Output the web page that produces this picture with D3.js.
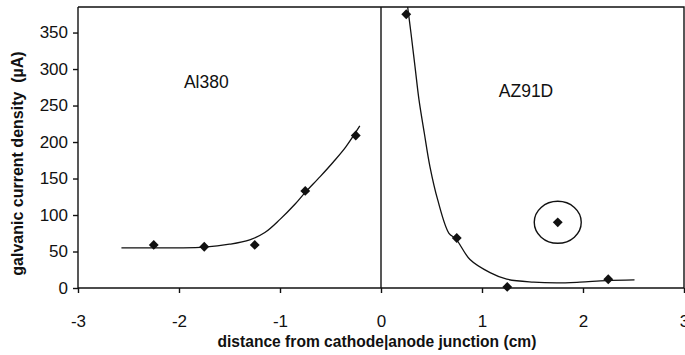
<!DOCTYPE html>
<html>
<head>
<meta charset="utf-8">
<script src="https://cdn.jsdelivr.net/npm/d3@7/dist/d3.min.js"></script>
<style>
  html, body { margin: 0; padding: 0; background: #fff; }
  svg { display: block; font-family: "Liberation Sans", Arial, sans-serif; }
</style>
</head>
<body>
<svg id="chart" width="685" height="355"></svg>
<script>
// Measured galvanic current density along the couple
const al380X = [-2.25, -1.75, -1.25, -0.75, -0.25];
const al380Y = [59, 56.5, 59, 133, 209];
const az91dX = [0.25, 0.75, 1.25, 1.75, 2.25];
const az91dY = [375, 68.5, 1.5, 90, 12];
// Index of the outlier marked with a ring
const outlierIndex = 3;

// Fitted trend lines
const al380FitX = [-2.57, -2.25, -2.0, -1.75, -1.5, -1.3, -1.15, -1.0, -0.85, -0.75, -0.6, -0.47, -0.35, -0.21];
const al380FitY = [55, 55, 55, 56, 60, 66, 76, 94, 115, 131, 153, 173, 193, 222];
const az91dFitX = [0.264, 0.297, 0.337, 0.376, 0.429, 0.485, 0.561, 0.673, 0.743, 0.881, 1.08, 1.245, 1.51, 1.74, 1.97, 2.23, 2.51];
const az91dFitY = [385, 349, 303, 258, 212, 166, 121, 75, 67, 39, 21, 12, 8, 7, 8, 10, 11];

const xTicks = [-3, -2, -1, 0, 1, 2, 3];
const yTicks = [0, 50, 100, 150, 200, 250, 300, 350];

const svg = d3.select("#chart");
const plotLeft = 78, plotRight = 684, plotTop = 7, plotBottom = 288;

const x = d3.scaleLinear().domain([-3, 3]).range([plotLeft, plotRight]);
const y = d3.scaleLinear().domain([0, 385]).range([plotBottom, plotTop]);

const ink = "#111";

// Frame: top and right edges
svg.append("path")
  .attr("d", `M${plotLeft},${plotTop}H${plotRight}V${plotBottom}`)
  .attr("fill", "none").attr("stroke", ink).attr("stroke-width", 1.4);

// Junction line at x = 0
svg.append("line")
  .attr("x1", x(0)).attr("x2", x(0)).attr("y1", plotTop).attr("y2", plotBottom)
  .attr("stroke", ink).attr("stroke-width", 1.4);

// Axes (plain hyphen for negative numbers)
const xAxis = svg.append("g")
  .attr("transform", `translate(0,${plotBottom})`)
  .call(d3.axisBottom(x).tickValues(xTicks).tickFormat(d => String(d))
    .tickSizeOuter(0).tickSize(5).tickPadding(22));
const yAxis = svg.append("g")
  .attr("transform", `translate(${plotLeft},0)`)
  .call(d3.axisLeft(y).tickValues(yTicks).tickSizeOuter(0).tickSize(5).tickPadding(5));

[xAxis, yAxis].forEach(g => {
  g.select(".domain").attr("stroke", ink).attr("stroke-width", 1.4);
  g.selectAll(".tick line").attr("stroke", ink).attr("stroke-width", 1.4);
  g.selectAll(".tick text")
    .attr("fill", ink)
    .style("font-family", "'Liberation Sans', Arial, sans-serif")
    .style("font-size", "17px");
});
xAxis.select(".domain").attr("d", `M${plotLeft},0H${plotRight}`);
yAxis.select(".domain").attr("d", `M0,${plotTop}V${plotBottom}`);

// Trend lines
const line = d3.line().x(d => x(d[0])).y(d => y(d[1])).curve(d3.curveCatmullRom.alpha(0.5));
svg.append("path")
  .datum(d3.zip(al380FitX, al380FitY))
  .attr("d", line).attr("fill", "none").attr("stroke", ink).attr("stroke-width", 1.3);
svg.append("path")
  .datum(d3.zip(az91dFitX, az91dFitY))
  .attr("d", line).attr("fill", "none").attr("stroke", ink).attr("stroke-width", 1.3);

// Diamond markers
const diamond = d3.symbol().type(d3.symbolDiamond2).size(62);
const points = d3.zip(al380X, al380Y).concat(d3.zip(az91dX, az91dY));
svg.append("g").selectAll("path")
  .data(points).join("path")
  .attr("d", diamond)
  .attr("transform", d => `translate(${x(d[0])},${y(d[1])})`)
  .attr("fill", ink);

// Ring around the outlier
svg.append("ellipse")
  .attr("cx", x(az91dX[outlierIndex])).attr("cy", y(az91dY[outlierIndex]))
  .attr("rx", 23.5).attr("ry", 21)
  .attr("fill", "none").attr("stroke", ink).attr("stroke-width", 1.4);

// Alloy labels
svg.append("text").attr("x", x(-1.73)).attr("y", y(281)).attr("text-anchor", "middle")
  .attr("dominant-baseline", "middle")
  .style("font-size", "17.5px").attr("fill", ink).text("Al380");
svg.append("text").attr("x", x(1.436)).attr("y", y(268)).attr("text-anchor", "middle")
  .attr("dominant-baseline", "middle")
  .style("font-size", "17.5px").attr("fill", ink).text("AZ91D");

// Axis titles
svg.append("text")
  .attr("x", x(-0.04)).attr("y", 347).attr("text-anchor", "middle")
  .style("font-size", "15.6px").style("font-weight", "bold").attr("fill", ink)
  .text("distance from cathode|anode junction (cm)");
svg.append("text")
  .attr("transform", `translate(23,${(plotTop + plotBottom) / 2 + 16}) rotate(-90)`)
  .attr("text-anchor", "middle")
  .style("font-size", "16px").style("font-weight", "bold").attr("fill", ink)
  .style("white-space", "pre")
  .text("galvanic current density  (\u00b5A)");
</script>
</body>
</html>
